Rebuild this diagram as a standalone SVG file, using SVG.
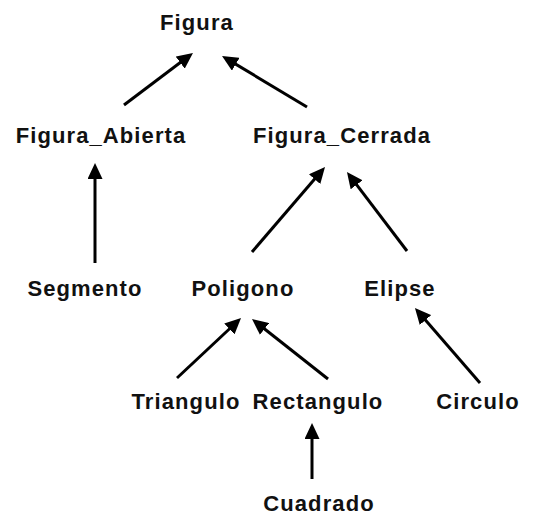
<svg xmlns="http://www.w3.org/2000/svg" width="533" height="516" viewBox="0 0 533 516">
<style>
.lbl{font-family:"Liberation Sans",Arial,sans-serif;font-weight:bold;font-size:22px;letter-spacing:1.1px;fill:#111;text-anchor:middle}
.edge{stroke:#000;stroke-width:3;fill:none;marker-end:url(#ah)}
</style>
<defs>
<marker id="ah" viewBox="0 0 16 15" markerWidth="16" markerHeight="15" markerUnits="userSpaceOnUse" refX="8" refY="7.5" orient="auto">
<path d="M0,0 L16,7.5 L0,15 z" fill="#000"/>
</marker>
</defs>
<rect width="533" height="516" fill="#fff"/>
<g id="connectors">
<line class="edge" x1="124" y1="105" x2="186.6" y2="57.8"/>
<line class="edge" x1="307" y1="107" x2="228.9" y2="60.1"/>
<line class="edge" x1="95" y1="263" x2="95" y2="171"/>
<line class="edge" x1="252" y1="252" x2="319.8" y2="173.1"/>
<line class="edge" x1="407" y1="251" x2="351.8" y2="178.4"/>
<line class="edge" x1="177" y1="378" x2="235.2" y2="323.5"/>
<line class="edge" x1="328" y1="379" x2="258.3" y2="324"/>
<line class="edge" x1="480" y1="383" x2="420.2" y2="314"/>
<line class="edge" x1="312" y1="479" x2="312" y2="431"/>
</g>
<g id="figura"><text class="lbl" x="197" y="30">Figura</text></g>
<g id="figura_abierta"><text class="lbl" x="101" y="143">Figura_Abierta</text></g>
<g id="figura_cerrada"><text class="lbl" x="342" y="143">Figura_Cerrada</text></g>
<g id="segmento"><text class="lbl" x="85" y="296">Segmento</text></g>
<g id="poligono"><text class="lbl" x="243" y="296">Poligono</text></g>
<g id="elipse"><text class="lbl" x="400" y="296">Elipse</text></g>
<g id="triangulo"><text class="lbl" x="186" y="409">Triangulo</text></g>
<g id="rectangulo"><text class="lbl" x="318" y="409">Rectangulo</text></g>
<g id="circulo"><text class="lbl" x="478" y="409">Circulo</text></g>
<g id="cuadrado"><text class="lbl" x="319" y="511">Cuadrado</text></g>
</svg>
